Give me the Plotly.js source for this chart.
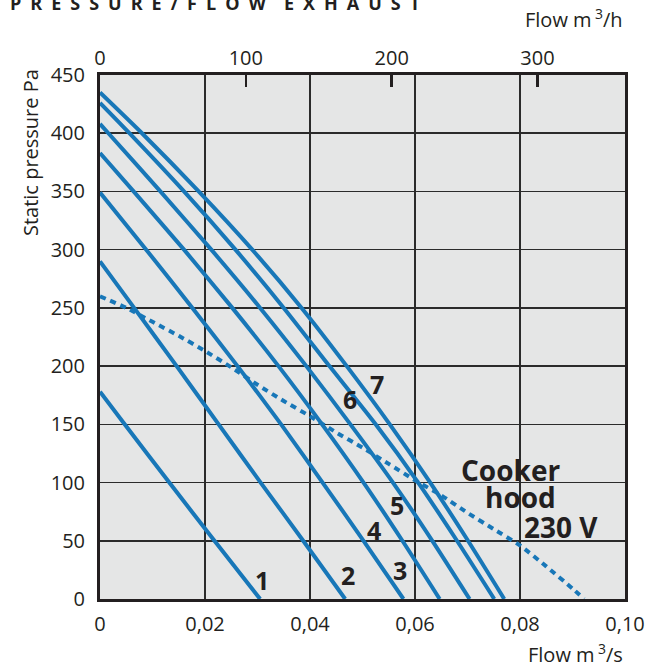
<!DOCTYPE html>
<html>
<head>
<meta charset="utf-8">
<script src="https://cdn.plot.ly/plotly-3.0.1.min.js"></script>
<style>html,body{margin:0;padding:0;background:#fff;}#chart{width:654px;height:666px;}</style>
</head>
<body>
<div id="chart"></div>
<script>
// Flow (m3/s) and static pressure (Pa) for each fan step
const c1Flow = [0, 0.0047, 0.0132, 0.0218, 0.0305];
const c1Pa   = [178, 150, 100, 50, 0];
const c2Flow = [0, 0.0065, 0.0146, 0.0226, 0.0306, 0.0387, 0.0467];
const c2Pa   = [290, 250, 200, 150, 100, 50, 0];
const c3Flow = [0, 0.0088, 0.0176, 0.0262, 0.0345, 0.0424, 0.0502, 0.0578];
const c3Pa   = [349, 300, 250, 200, 150, 100, 50, 0];
const c4Flow = [0, 0.0064, 0.0160, 0.0252, 0.0340, 0.0423, 0.0502, 0.0576, 0.0647];
const c4Pa   = [383, 350, 300, 250, 200, 150, 100, 50, 0];
const c5Flow = [0, 0.0016, 0.0115, 0.0212, 0.0305, 0.0393, 0.0477, 0.0558, 0.0633, 0.0704];
const c5Pa   = [408, 400, 350, 300, 250, 200, 150, 100, 50, 0];
const c6Flow = [0, 0.0056, 0.0160, 0.0258, 0.0350, 0.0437, 0.0525, 0.0606, 0.0680, 0.0751];
const c6Pa   = [426, 400, 350, 300, 250, 200, 150, 100, 50, 0];
const c7Flow = [0, 0.0080, 0.0188, 0.0290, 0.0384, 0.0470, 0.0552, 0.0629, 0.0701, 0.0770];
const c7Pa   = [435, 400, 350, 300, 250, 200, 150, 100, 50, 0];
// Cooker hood 230 V (dotted)
const hoodFlow = [0, 0.005, 0.010, 0.015, 0.020, 0.025, 0.030, 0.035, 0.040, 0.045, 0.050, 0.055, 0.060, 0.065, 0.070, 0.075, 0.080, 0.085, 0.090, 0.0922];
const hoodPa   = [260, 250, 238, 226, 213, 199, 184, 170, 157, 143, 130, 116, 102, 89, 74, 60, 46, 28, 9, 0];

const curveNames = ['1','2','3','4','5','6','7'];
const curveFlows = [c1Flow, c2Flow, c3Flow, c4Flow, c5Flow, c6Flow, c7Flow];
const curvePas   = [c1Pa, c2Pa, c3Pa, c4Pa, c5Pa, c6Pa, c7Pa];

// Label positions (flow, Pa)
const labelText = ['1','2','3','4','5','6','7'];
const labelFlow = [0.0309, 0.0473, 0.0571, 0.0521, 0.0565, 0.0476, 0.0527];
const labelPa   = [16, 21, 25, 59, 81, 172, 185];

// Tick labels
const xTickVals = [0, 0.02, 0.04, 0.06, 0.08, 0.10];
const xTickText = ['0', '0,02', '0,04', '0,06', '0,08', '0,10'];
const yTickVals = [0, 50, 100, 150, 200, 250, 300, 350, 400, 450];
const topTickVals = [0, 100, 200, 300];
const topTickText = ['0', '100', '200', '300'];

const BLUE = '#1877b8';
const DARK = '#231f20';
const FONT = 'Open Sans, Noto Sans, sans-serif';

const traces = curveNames.map((n, i) => ({
  type: 'scatter', mode: 'lines', name: n,
  x: curveFlows[i], y: curvePas[i],
  line: {color: BLUE, width: 4, shape: 'spline', smoothing: 0.6},
  hoverinfo: 'skip', showlegend: false
}));
traces.push({
  type: 'scatter', mode: 'lines', name: 'Cooker hood 230 V',
  x: hoodFlow, y: hoodPa,
  line: {color: BLUE, width: 4, dash: '6px,5px', shape: 'spline', smoothing: 0.6},
  hoverinfo: 'skip', showlegend: false
});
// invisible trace to activate top axis
traces.push({
  type: 'scatter', mode: 'lines', x: [0, 360], y: [0, 0], xaxis: 'x2', yaxis: 'y',
  line: {color: 'rgba(0,0,0,0)', width: 0}, hoverinfo: 'skip', showlegend: false
});

const annotations = labelText.map((t, i) => ({
  x: labelFlow[i], y: labelPa[i], xref: 'x', yref: 'y', text: t, showarrow: false,
  font: {family: FONT, size: 25, color: DARK, weight: 700}
}));
annotations.push(
  {x: 0.0781, y: 111, xref: 'x', yref: 'y', text: 'Cooker', showarrow: false,
   font: {family: FONT, size: 28, color: DARK, weight: 700}},
  {x: 0.0800, y: 88, xref: 'x', yref: 'y', text: 'hood', showarrow: false,
   font: {family: FONT, size: 28, color: DARK, weight: 700}},
  {x: 0.0879, y: 62, xref: 'x', yref: 'y', text: '230 V', showarrow: false,
   font: {family: FONT, size: 28, color: DARK, weight: 700}},
  {x: 1.0, y: 1.0, xref: 'paper', yref: 'paper', xanchor: 'right', yanchor: 'bottom', yshift: 40,
   text: 'Flow m\u2009<sup>3</sup>/h', showarrow: false, font: {family: FONT, size: 20, color: DARK}},
  {x: 1.0, y: 0, xref: 'paper', yref: 'paper', xanchor: 'right', yanchor: 'top', yshift: -38,
   text: 'Flow m\u2009<sup>3</sup>/s', showarrow: false, font: {family: FONT, size: 20, color: DARK}},
  {x: 0, y: 383, xref: 'paper', yref: 'y', xanchor: 'center', yanchor: 'middle', xshift: -70,
   text: 'Static pressure Pa', textangle: -90, showarrow: false, font: {family: FONT, size: 20, color: DARK}},
  {x: 0, y: 1, xref: 'paper', yref: 'paper', xanchor: 'left', yanchor: 'bottom', xshift: -92, yshift: 58,
   text: 'P\u2002R\u2002E\u2002S\u2002S\u2002U\u2002R\u2002E\u2002/\u2002F\u2002L\u2002O\u2002W\u2002\u2002E\u2002X\u2002H\u2002A\u2002U\u2002S\u2002T',
   showarrow: false, font: {family: FONT, size: 18, color: DARK, weight: 700}}
);

const layout = {
  width: 654, height: 666,
  margin: {l: 100, r: 29, t: 75, b: 67},
  paper_bgcolor: '#ffffff', plot_bgcolor: '#e5e6e6',
  showlegend: false,
  font: {family: FONT, size: 20, color: DARK},
  xaxis: {
    range: [0, 0.1], tickvals: xTickVals, ticktext: xTickText,
    showgrid: true, gridcolor: '#2b2b2b', gridwidth: 1.5,
    zeroline: false, showline: true, linecolor: DARK, linewidth: 3, mirror: true,
    ticks: '', ticklabelstandoff: 5,
    tickfont: {family: FONT, size: 20, color: DARK}, fixedrange: true
  },
  xaxis2: {
    overlaying: 'x', side: 'top', range: [0, 360], anchor: 'y',
    tickvals: topTickVals, ticktext: topTickText,
    showgrid: false, zeroline: false, showline: false,
    ticks: 'inside', ticklen: 12, tickwidth: 2.5, tickcolor: DARK,
    ticklabelstandoff: 5,
    tickfont: {family: FONT, size: 20, color: DARK}, fixedrange: true
  },
  yaxis: {
    range: [0, 450], tickvals: yTickVals,
    showgrid: true, gridcolor: '#2b2b2b', gridwidth: 1.5,
    zeroline: false, showline: true, linecolor: DARK, linewidth: 3, mirror: true,
    ticks: '', ticklabelstandoff: 8,
    tickfont: {family: FONT, size: 20, color: DARK}, fixedrange: true
  },
  annotations: annotations
};

Plotly.newPlot('chart', traces, layout, {displayModeBar: false, staticPlot: true});
</script>
</body>
</html>
